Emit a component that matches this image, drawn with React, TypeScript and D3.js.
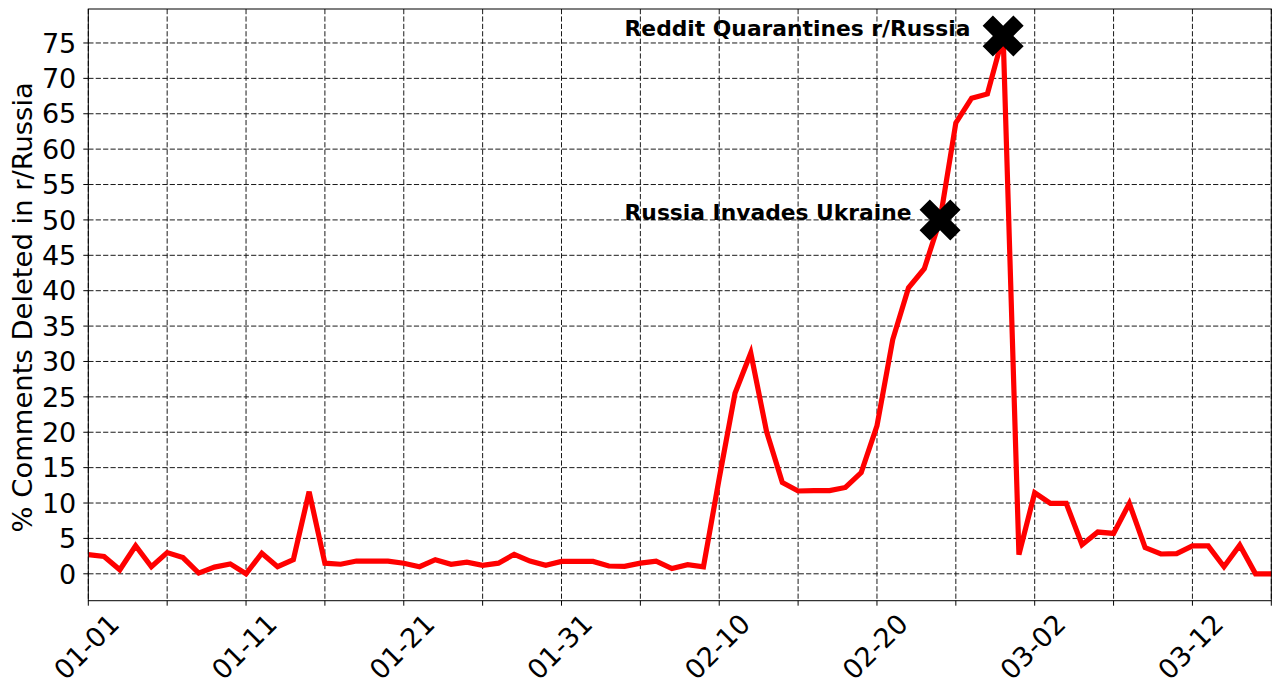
import React from "react";
import * as d3 from "d3";

// ---- data ----
const startDay = new Date(2022, 0, 1);
const endDay = new Date(2022, 2, 17);
const deletedPct: number[] = [
  2.7, 2.45, 0.57, 3.96, 1.0, 3.0, 2.3, 0.1, 0.95, 1.4,
  0.0, 2.9, 1.0, 2.0, 11.6, 1.5, 1.35, 1.8, 1.8, 1.8,
  1.5, 1.0, 2.0, 1.35, 1.65, 1.2, 1.5, 2.75, 1.8, 1.2,
  1.75, 1.75, 1.75, 1.1, 1.05, 1.5, 1.8, 0.75, 1.3, 1.0,
  13.5, 25.5, 31.2, 20.1, 12.9, 11.7, 11.75, 11.75, 12.2, 14.3,
  20.9, 33.1, 40.4, 43.1, 50.0, 63.7, 67.2, 67.8, 76.0, 2.7,
  11.45, 9.95, 9.95, 4.1, 5.9, 5.7, 9.95, 3.7, 2.8, 2.85,
  3.95, 3.95, 1.0, 4.05, 0.0, 0.0,
];
const eventLabels: string[] = ["Russia Invades Ukraine", "Reddit Quarantines r/Russia"];
const eventDates: Date[] = [new Date(2022, 1, 24), new Date(2022, 1, 28)];
const eventValues: number[] = [50, 76];
const eventTextDate = new Date(2022, 1, 4);
const yTicks: number[] = [0, 5, 10, 15, 20, 25, 30, 35, 40, 45, 50, 55, 60, 65, 70, 75];
const yDomain: [number, number] = [-3.8, 79.8];
const yLabel = "% Comments Deleted in r/Russia";

const dates = d3.timeDay.range(startDay, d3.timeDay.offset(endDay, 1));
const series = dates.map((d, i) => ({ date: d, value: deletedPct[i] }));
const gridDates = dates.filter((_, i) => i % 5 === 0);
const labelDates = dates.filter((_, i) => i % 10 === 0);
const fmt = d3.timeFormat("%m-%d");

const W = 1280;
const H = 696;
const plot = { left: 88.3, right: 1271.3, top: 9, bottom: 600.7 };
const FONT = "'DejaVu Sans', sans-serif";

export default function App() {
  const x = d3.scaleTime().domain([startDay, endDay]).range([plot.left, plot.right]);
  const y = d3.scaleLinear().domain(yDomain).range([plot.bottom, plot.top]);
  const line = d3
    .line<{ date: Date; value: number }>()
    .x((d) => x(d.date))
    .y((d) => y(d.value));
  const marker = d3.symbol().type(d3.symbolCross).size(1051)();

  return (
    <div style={{ position: "fixed", left: 0, top: 0, width: W, height: H, background: "#fff" }}>
      <svg width={W} height={H} style={{ display: "block" }}>
        <rect x={0} y={0} width={W} height={H} fill="#fff" />
        {/* grid */}
        <g stroke="#1a1a1a" strokeWidth={1} strokeDasharray="5.2,2.2">
          {yTicks.map((t) => (
            <line key={"gy" + t} x1={plot.left} x2={plot.right} y1={y(t)} y2={y(t)} />
          ))}
          {gridDates.map((d, i) => (
            <line key={"gx" + i} x1={x(d)} x2={x(d)} y1={plot.top} y2={plot.bottom} />
          ))}
        </g>
        {/* line */}
        <path d={line(series) || ""} fill="none" stroke="#ff0000" strokeWidth={5.2} strokeLinejoin="miter" strokeLinecap="butt" />
        {/* markers */}
        {eventDates.map((d, i) => (
          <path
            key={"m" + i}
            d={marker || ""}
            transform={`translate(${x(d)},${y(eventValues[i])}) rotate(45)`}
            fill="#000"
          />
        ))}
        {/* annotation texts */}
        {eventLabels.map((lab, i) => (
          <text
            key={"t" + i}
            x={x(eventTextDate)}
            y={y(eventValues[i])}
            fontFamily={FONT}
            fontWeight="bold"
            fontSize={21.8}
            fill="#000"
          >
            {lab}
          </text>
        ))}
        {/* frame */}
        <rect
          x={plot.left}
          y={plot.top}
          width={plot.right - plot.left}
          height={plot.bottom - plot.top}
          fill="none"
          stroke="#000"
          strokeWidth={1}
        />
        {/* y ticks */}
        {yTicks.map((t) => (
          <g key={"yt" + t}>
            <line x1={plot.left - 5} x2={plot.left} y1={y(t)} y2={y(t)} stroke="#000" strokeWidth={1} />
            <text
              x={plot.left - 12}
              y={y(t)}
              dy="0.36em"
              textAnchor="end"
              fontFamily={FONT}
              fontSize={27}
              fill="#000"
            >
              {t}
            </text>
          </g>
        ))}
        {/* x ticks */}
        {gridDates.map((d, i) => (
          <line key={"xt" + i} x1={x(d)} x2={x(d)} y1={plot.bottom} y2={plot.bottom + 5} stroke="#000" strokeWidth={1} />
        ))}
        {labelDates.map((d, i) => (
          <text
            key={"xl" + i}
            transform={`translate(${x(d) - 2},${646.5}) rotate(-45)`}
            dy="0.36em"
            textAnchor="middle"
            fontFamily={FONT}
            fontSize={27}
            fill="#000"
          >
            {fmt(d)}
          </text>
        ))}
        {/* y label */}
        <text
          transform={`translate(31.7,${(plot.top + plot.bottom) / 2 + 2.5}) rotate(-90)`}
          textAnchor="middle"
          fontFamily={FONT}
          fontSize={27.4}
          fill="#000"
        >
          {yLabel}
        </text>
      </svg>
    </div>
  );
}
